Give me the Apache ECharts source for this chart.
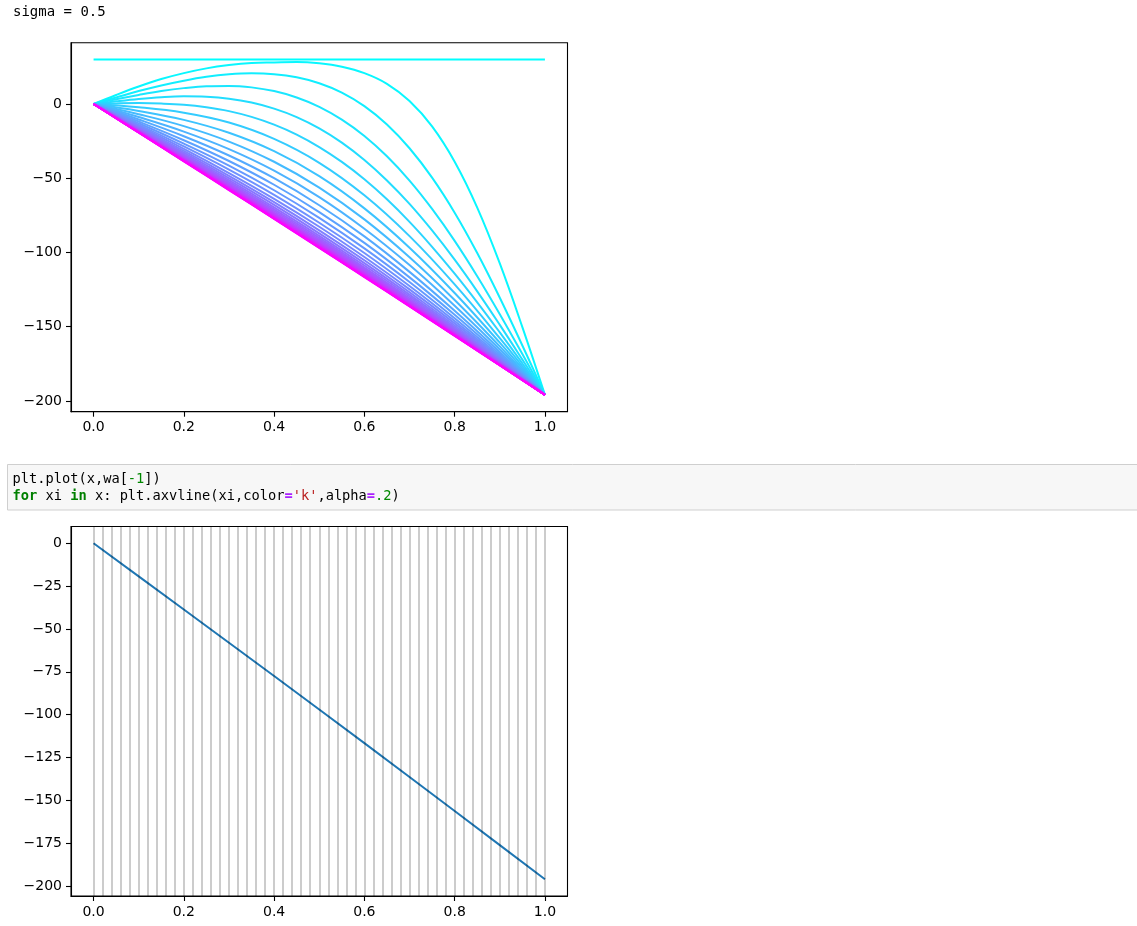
<!DOCTYPE html>
<html><head><meta charset="utf-8">
<script src="https://cdn.jsdelivr.net/npm/echarts@6/dist/echarts.min.js"></script>
<style>html,body{margin:0;padding:0;background:#fff}#c{width:1137px;height:926px}</style>
</head><body><div id="c"></div>
<script>
// ---- data ----
const xFine = [0,0.05,0.1,0.15,0.2,0.25,0.3,0.35,0.4,0.45,0.5,0.55,0.6,0.65,0.7,0.75,0.8,0.85,0.9,0.95,1];
const xCoarse = [0,0.1,0.2,0.3,0.4,0.5,0.6,0.7,0.8,0.9,1];
const wa0 = [30,30,30,30,30,30,30,30,30,30,30];
const wa1 = [0,6.1,11.8,16.8,20.8,24.0,26.2,27.6,28.0,28.3,27.4,25.1,20.8,13.6,2.0,-15.1,-38.9,-69.8,-107.4,-150.3,-196];
const wa2 = [0,4.4,8.7,12.5,15.7,18.3,20.0,20.7,20.1,18.0,14.0,7.7,-1.4,-13.8,-29.8,-49.6,-73.2,-100.4,-130.5,-162.7,-196];
const wa3 = [0,3.2,6.1,8.7,10.7,12.0,12.2,11.2,8.7,4.4,-1.9,-10.5,-21.5,-35.2,-51.6,-70.7,-92.2,-116.0,-141.6,-168.5,-196];
const wa4 = [0,1.8,3.4,4.6,5.2,4.9,3.6,1.0,-3.1,-8.8,-16.4,-26.0,-37.7,-51.5,-67.3,-85.2,-104.9,-126.2,-148.8,-172.2,-196];
const wa5 = [0,0.4,0.6,0.3,-0.5,-2.2,-4.8,-8.7,-13.9,-20.6,-29.0,-39.0,-50.7,-64.2,-79.4,-96.2,-114.3,-133.6,-153.9,-174.8,-196];
const waCoarse = [
  [0,-2.2,-5.9,-12.5,-23.5,-39.6,-61.5,-89.0,-121.5,-157.8,-196],
  [0,-4.7,-10.7,-19.4,-31.8,-48.6,-70.3,-96.8,-127.3,-160.8,-196],
  [0,-6.9,-14.9,-25.3,-38.9,-56.3,-77.7,-103.2,-132.0,-163.3,-196],
  [0,-8.8,-18.6,-30.4,-44.9,-62.7,-84.0,-108.5,-135.9,-165.4,-196],
  [0,-10.4,-21.7,-34.7,-50.0,-68.2,-89.2,-113.1,-139.3,-167.2,-196],
  [0,-11.8,-24.4,-38.4,-54.4,-72.8,-93.6,-116.8,-142.0,-168.6,-196],
  [0,-13.0,-26.7,-41.5,-58.1,-76.7,-97.3,-119.9,-144.3,-169.8,-196],
  [0,-14.0,-28.6,-44.2,-61.2,-80.0,-100.4,-122.6,-146.2,-170.8,-196],
  [0,-14.9,-30.2,-46.5,-63.9,-82.7,-103.1,-124.9,-147.8,-171.7,-196],
  [0,-15.6,-31.6,-48.4,-66.1,-85.1,-105.3,-126.8,-149.2,-172.4,-196],
  [0,-16.2,-32.8,-50.0,-68.0,-87.1,-107.2,-128.4,-150.4,-173.0,-196],
  [0,-16.8,-33.8,-51.3,-69.6,-88.8,-108.8,-129.7,-151.4,-173.6,-196],
  [0,-17.2,-34.6,-52.5,-71.0,-90.2,-110.2,-130.9,-152.2,-174.0,-196],
  [0,-17.6,-35.3,-53.5,-72.1,-91.4,-111.3,-131.9,-152.9,-174.4,-196],
  [0,-17.9,-35.9,-54.3,-73.1,-92.4,-112.3,-132.7,-153.5,-174.7,-196],
  [0,-18.1,-36.4,-55.0,-73.9,-93.3,-113.1,-133.4,-154.0,-174.9,-196],
  [0,-18.4,-36.9,-55.6,-74.6,-94.0,-113.8,-134.0,-154.5,-175.2,-196],
  [0,-18.6,-37.2,-56.1,-75.2,-94.6,-114.4,-134.5,-154.8,-175.4,-196],
  [0,-18.7,-37.5,-56.5,-75.7,-95.2,-114.9,-134.9,-155.1,-175.5,-196],
  [0,-18.9,-37.8,-56.9,-76.1,-95.6,-115.3,-135.3,-155.4,-175.7,-196],
  [0,-19.0,-38.0,-57.2,-76.5,-96.0,-115.7,-135.6,-155.6,-175.8,-196],
  [0,-19.1,-38.2,-57.4,-76.8,-96.3,-116.0,-135.8,-155.8,-175.9,-196],
  [0,-19.2,-38.3,-57.6,-77.0,-96.5,-116.2,-136.0,-155.9,-176.0,-196],
  [0,-19.2,-38.5,-57.8,-77.2,-96.8,-116.4,-136.2,-156.1,-176.0,-196],
  [0,-19.3,-38.6,-58.0,-77.4,-97.0,-116.6,-136.4,-156.2,-176.1,-196]
];
const xGrid = [0,0.02,0.04,0.06,0.08,0.1,0.12,0.14,0.16,0.18,0.2,0.22,0.24,0.26,0.28,0.3,0.32,0.34,0.36,0.38,0.4,0.42,0.44,0.46,0.48,0.5,0.52,0.54,0.56,0.58,0.6,0.62,0.64,0.66,0.68,0.7,0.72,0.74,0.76,0.78,0.8,0.82,0.84,0.86,0.88,0.9,0.92,0.94,0.96,0.98,1];
const xTicks = [0,0.2,0.4,0.6,0.8,1.0];
const topYTicks = [-200,-150,-100,-50,0];
const bottomYTicks = [-200,-175,-150,-125,-100,-75,-50,-25,0];
const sigmaText = 'sigma = 0.5';

// ---- build ----
const curves = [[xCoarse, wa0],[xFine, wa1],[xFine, wa2],[xFine, wa3],[xFine, wa4],[xFine, wa5]]
  .concat(waCoarse.map(v => [xCoarse, v]));
const waLast = waCoarse[waCoarse.length - 1];
const N = curves.length;
function cool(i){ const f = i/(N-1); return 'rgb(' + Math.round(255*f) + ',' + Math.round(255*(1-f)) + ',255)'; }
const minus = v => String(v).replace('-', '\u2212');
const FONT = 'DejaVu Sans';
function xAxisCfg(gi){ return {
  type:'value', gridIndex:gi, min:-0.05, max:1.05,
  axisLine:{show:true, onZero:false, lineStyle:{color:'#000', width:1.1}},
  axisTick:{show:true, length:5, customValues:xTicks, lineStyle:{color:'#000', width:1.1}},
  axisLabel:{customValues:xTicks, formatter:v=>v.toFixed(1), color:'#000', fontFamily:FONT, fontSize:14, margin:9},
  splitLine:{show:false}
};}
function yAxisCfg(gi, mn, mx, ticks){ return {
  type:'value', gridIndex:gi, min:mn, max:mx,
  axisLine:{show:true, onZero:false, lineStyle:{color:'#000', width:1.1}},
  axisTick:{show:true, length:5, customValues:ticks, lineStyle:{color:'#000', width:1.1}},
  axisLabel:{customValues:ticks, formatter:minus, color:'#000', fontFamily:FONT, fontSize:14, margin:9},
  splitLine:{show:false}
};}

const series = curves.map((c, i) => ({
  type:'line', xAxisIndex:0, yAxisIndex:0, showSymbol:false, silent:true,
  smooth:0.4,
  data:c[0].map((x, j) => [x, c[1][j]]),
  lineStyle:{color:cool(i), width:2}
}));
series.push({
  type:'line', xAxisIndex:1, yAxisIndex:1, showSymbol:false, silent:true,
  data:xCoarse.map((x, j) => [x, waLast[j]]),
  lineStyle:{color:'#1f77b4', width:2},
  markLine:{silent:true, symbol:['none','none'], label:{show:false},
    lineStyle:{color:'rgba(0,0,0,0.2)', width:2, type:'solid'},
    emphasis:{disabled:true},
    data:xGrid.map(x => ({xAxis:x}))}
});

const chart = echarts.init(document.getElementById('c'), null, {renderer:'canvas'});
chart.setOption({
  animation:false,
  backgroundColor:'#fff',
  grid:[
    {left:71, top:42.7, width:496.5, height:369, show:true, borderColor:'#000', borderWidth:1.1, backgroundColor:'transparent'},
    {left:71, top:526.5, width:496.5, height:369.5, show:true, borderColor:'#000', borderWidth:1.1, backgroundColor:'transparent'}
  ],
  xAxis:[xAxisCfg(0), xAxisCfg(1)],
  yAxis:[yAxisCfg(0, -207.3, 41.3, topYTicks), yAxisCfg(1, -205.8, 9.8, bottomYTicks)],
  series:series,
  graphic:[
    {type:'text', left:13, top:5, style:{text:sigmaText, fontFamily:'DejaVu Sans Mono', fontSize:14, fill:'#000'}},
    {type:'rect', shape:{x:7.5, y:464.5, width:1140, height:45.5}, style:{fill:'#f7f7f7', stroke:'#cfcfcf', lineWidth:1}},
    {type:'text', x:12.5, y:479, style:{
      text:'plt.plot(x,wa[{num|-1}])',
      fontFamily:'DejaVu Sans Mono', fontSize:13.7, fill:'#000', verticalAlign:'middle',
      rich:{num:{fill:'#008800', fontFamily:'DejaVu Sans Mono', fontSize:13.7}}}},
    {type:'text', x:12.5, y:496, style:{
      text:'{kw|for} xi {kw|in} x: plt.axvline(xi,color{op|=}{str|\'k\'},alpha{op|=}{num|.2})',
      fontFamily:'DejaVu Sans Mono', fontSize:13.7, fill:'#000', verticalAlign:'middle',
      rich:{
        kw:{fill:'#008000', fontWeight:'bold', fontFamily:'DejaVu Sans Mono', fontSize:13.7},
        op:{fill:'#AA22FF', fontWeight:'bold', fontFamily:'DejaVu Sans Mono', fontSize:13.7},
        str:{fill:'#BA2121', fontFamily:'DejaVu Sans Mono', fontSize:13.7},
        num:{fill:'#008800', fontFamily:'DejaVu Sans Mono', fontSize:13.7}
      }}}
  ]
});
</script>
</body></html>
